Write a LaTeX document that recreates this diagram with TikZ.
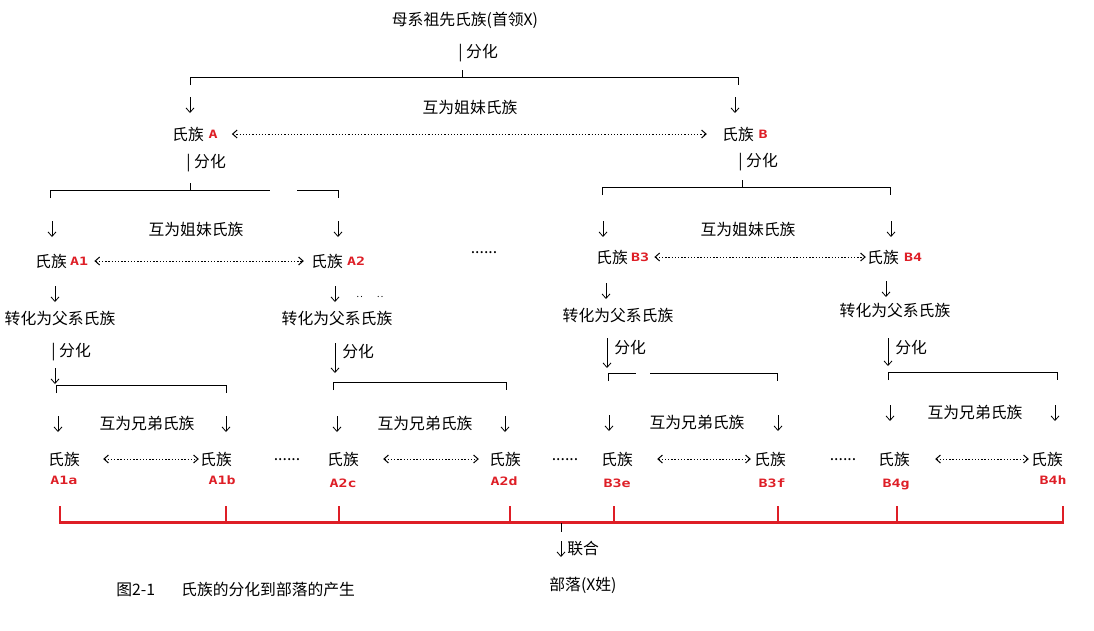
\documentclass[tikz,border=0pt]{standalone}
\usepackage{fontspec}
\setmainfont{Noto Sans CJK SC}
\newfontfamily\labfont[FakeStretch=1.3]{DejaVu Sans Mono}
\usetikzlibrary{arrows.meta}
\definecolor{tagred}{RGB}{222,30,38}
\tikzstyle{every node}=[inner sep=0pt, font=\fontsize{15.8}{16}\selectfont]
\tikzstyle{tag}=[text=tagred, font=\labfont\bfseries\fontsize{11.5}{12}\selectfont]
\tikzstyle{down}=[-{Straight Barb[length=4.5pt,width=8pt]}]
\tikzstyle{link}=[{Straight Barb[length=4.5pt,width=8pt]}-{Straight Barb[length=4.5pt,width=8pt]}, line width=1pt, dash pattern=on 1.3pt off 1.9pt]
\tikzstyle{bar}=[tagred, line width=3pt]

\begin{document}
\begin{tikzpicture}[x=1pt, y=-1pt, line width=0.8pt]
\useasboundingbox[fill=white] (0,0) rectangle (1094,630);
% Ancestor clan
    \node (root) at (465,20) {母系祖先氏族(首领X)};
    \node[anchor=west] (fh0) at (458,53) {| 分化};
    \draw (190,85) -- (190,77) -- (738,77) -- (738,85);
    \draw (462,70) -- (462,77);
    \draw[down] (190,97) -- (190,113);
    \draw[down] (735,97) -- (735,113);
    \node (sis0) at (470,107) {互为姐妹氏族};
    \node (cA) at (188,134) {氏族};
    \node[tag] (lA) at (213,134) {A};
    \node (cB) at (738,134) {氏族};
    \node[tag] (lB) at (763,134) {B};
    \draw[link] ([xshift=14pt]lA.east) -- ([xshift=-15pt]cB.west);
% Clan A splits
    \node[anchor=west] (fhA) at (186,163) {| 分化};
    \draw (50,198) -- (50,190) -- (270,190);
    \draw (297,190) -- (338,190) -- (338,198);
    \draw (190,183) -- (190,190);
    \draw[down] (52,221) -- (52,237);
    \draw[down] (338,221) -- (338,237);
    \node (sisA) at (196,229) {互为姐妹氏族};
    \node (cA1) at (51,261) {氏族};
    \node[tag] (lA1) at (79,261) {A1};
    \node (cA2) at (327,261) {氏族};
    \node[tag] (lA2) at (356,261) {A2};
    \draw[link] ([xshift=6pt]lA1.east) -- ([xshift=-7pt]cA2.west);
    \node (moreA) at (484,253) {......};
    \draw[down] (55,286) -- (55,302);
    \node (pA1) at (60,318) {转化为父系氏族};
    \draw[down] (335,286) -- (335,302);
    \node[font=\fontsize{9}{9}\selectfont] (junk) at (370,297) {.\,.\hspace{14pt}.\,.};
    \node (pA2) at (337,318) {转化为父系氏族};
% Clan B splits
    \node[anchor=west] (fhB) at (738,162) {| 分化};
    \draw (602,195) -- (602,187) -- (890,187) -- (890,195);
    \draw (742,180) -- (742,187);
    \draw[down] (603,221) -- (603,237);
    \draw[down] (891,221) -- (891,237);
    \node (sisB) at (748,229) {互为姐妹氏族};
    \node (cB3) at (612,257) {氏族};
    \node[tag] (lB3) at (640,257) {B3};
    \node (cB4) at (883,257) {氏族};
    \node[tag] (lB4) at (913,257) {B4};
    \draw[link] ([xshift=5pt]lB3.east) -- ([xshift=-1pt]cB4.west);
    \draw[down] (606,283) -- (606,299);
    \node (pB3) at (618,315) {转化为父系氏族};
    \draw[down] (886,281) -- (886,297);
    \node (pB4) at (895,310) {转化为父系氏族};
% Patrilineal clans split again
    \node[anchor=west] (fh1) at (51,352) {| 分化};
    \draw[down] (55,368) -- (55,384);
    \draw (56,393) -- (56,385) -- (226,385) -- (226,393);
    \draw[down] (335,343) -- (335,373);
    \node[anchor=west] (fh2) at (342,352) {分化};
    \draw (333,390) -- (333,382) -- (506,382) -- (506,390);
    \draw[down] (607,338) -- (607,368);
    \node[anchor=west] (fh3) at (614,348) {分化};
    \draw (608,381) -- (608,373) -- (636,373);
    \draw (650,373) -- (777,373) -- (777,381);
    \draw[down] (888,338) -- (888,366);
    \node[anchor=west] (fh4) at (895,348) {分化};
    \draw (888,380) -- (888,372) -- (1057,372) -- (1057,380);
% Brother clans
    \draw[down] (58,416) -- (58,432);
    \draw[down] (226,416) -- (226,432);
    \node (bro1) at (147,423) {互为兄弟氏族};
    \draw[down] (337,416) -- (337,432);
    \draw[down] (505,416) -- (505,432);
    \node (bro2) at (425,423) {互为兄弟氏族};
    \draw[down] (609,415) -- (609,431);
    \draw[down] (778,415) -- (778,431);
    \node (bro3) at (697,422) {互为兄弟氏族};
    \draw[down] (890,405) -- (890,421);
    \draw[down] (1055,405) -- (1055,421);
    \node (bro4) at (975,412) {互为兄弟氏族};
    \node (c1a) at (64,459) {氏族};
    \node (c1b) at (216,459) {氏族};
    \node (c2c) at (343,459) {氏族};
    \node (c2d) at (505,459) {氏族};
    \node (c3e) at (617,459) {氏族};
    \node (c3f) at (770,459) {氏族};
    \node (c4g) at (894,459) {氏族};
    \node (c4h) at (1047,459) {氏族};
    \draw[link] ([xshift=23pt]c1a.east) -- ([xshift=-1pt]c1b.west);
    \draw[link] ([xshift=24pt]c2c.east) -- ([xshift=-10pt]c2d.west);
    \draw[link] ([xshift=24pt]c3e.east) -- ([xshift=-3pt]c3f.west);
    \draw[link] ([xshift=25pt]c4g.east) -- ([xshift=-2pt]c4h.west);
    \node (more1) at (287,460) {......};
    \node (more2) at (565,460) {......};
    \node (more3) at (843,460) {......};
    \node[tag] (l1a) at (64,480) {A1a};
    \node[tag] (l1b) at (222,480) {A1b};
    \node[tag] (l2c) at (343,483) {A2c};
    \node[tag] (l2d) at (504,481) {A2d};
    \node[tag] (l3e) at (617,483) {B3e};
    \node[tag] (l3f) at (772,483) {B3f};
    \node[tag] (l4g) at (896,484) {B4g};
    \node[tag] (l4h) at (1053,480) {B4h};
% Union into a tribe
    \foreach \x in {60,226,339,510,614,778,897,1063}
        \draw[bar, line width=2.4pt] (\x,506) -- (\x,522);
    \draw[bar] (58.8,522) -- (1064.2,522);
    \draw (561,523) -- (561,532);
    \draw[down] (561,541) -- (561,557);
    \node[anchor=west] (union) at (567,549) {联合};
    \node (tribe) at (583,585) {部落(X姓)};
    \node[anchor=west] (caption) at (116,590) {图2-1\hspace{26pt}氏族的分化到部落的产生};
\end{tikzpicture}
\end{document}
